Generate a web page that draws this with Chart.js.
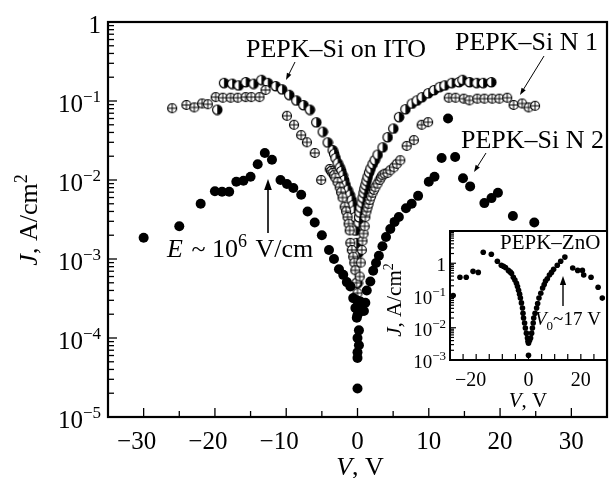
<!DOCTYPE html>
<html><head><meta charset="utf-8">
<script src="https://cdn.jsdelivr.net/npm/chart.js@4.4.0/dist/chart.umd.min.js"></script>
<style>
html,body{margin:0;padding:0;background:#fff;}
#wrap{position:relative;width:613px;height:478px;overflow:hidden;}
canvas{position:absolute;}
</style>
</head><body>
<div id="wrap">
<canvas id="main" width="613" height="478" style="left:0;top:0;width:613px;height:478px"></canvas>
<canvas id="inset" width="233" height="190" style="left:380px;top:222px;width:233px;height:190px"></canvas>
</div>
<script>
// ---------- DATA ----------
// PEPK–Si on ITO (half-filled circles)
const itoV = [-19.7,-18.75,-17.6,-16.7,-15.7,-14.6,-13.5,-12.6,-11.5,-10.6,-9.6,-8.6,-7.6,-6.7,-5.8,-4.9,-4.2,-3.5,-3.3,-3.1,-2.8,-2.5,-2.3,-2.1,-1.9,-1.7,-1.4,-1.1,-0.85,-0.7,-0.55,-0.4,-0.3,-0.2,-0.1,0,0.1,0.14,0.2,0.28,0.4,0.56,0.7,0.83,0.95,1.1,1.25,1.4,1.6,1.8,2.1,2.4,2.8,3.5,4.2,5.0,5.8,6.7,7.6,8.3,9.0,9.9,10.7,11.5,12.2,13.2,14.2,14.7,15.7,16.7,17.6,18.75];
const itoJ = [0.078,0.170,0.166,0.158,0.174,0.166,0.186,0.170,0.155,0.141,0.120,0.102,0.089,0.078,0.054,0.041,0.030,0.024,0.0215,0.019,0.0165,0.0145,0.013,0.0115,0.0100,0.0087,0.0075,0.0065,0.0056,0.0048,0.0041,0.0034,0.0023,0.0016,0.0009,0.0005,0.0012,0.0029,0.0034,0.0039,0.0045,0.0052,0.0060,0.0069,0.0078,0.0087,0.0098,0.011,0.0125,0.014,0.016,0.018,0.021,0.026,0.035,0.045,0.063,0.079,0.093,0.102,0.112,0.126,0.138,0.151,0.158,0.170,0.174,0.186,0.174,0.170,0.170,0.174];
// PEPK–Si N 1 (circles with cross)
const n1V = [-26,-24,-22.9,-21.8,-21,-19.9,-18.9,-17.8,-16.8,-15.7,-14.9,-13.75,-12.9,-9.9,-8.9,-7.9,-7.1,-6.0,-5.1,-3.9,-3.7,-3.5,-3.3,-3.1,-2.8,-2.5,-2.3,-2.1,-1.8,-1.6,-1.4,-1.25,-1.1,-1.0,-0.8,-0.6,-0.45,-0.3,-0.15,0,0.3,0.45,0.6,0.7,0.85,1.0,1.1,1.25,1.4,1.55,1.7,1.9,2.1,2.3,2.5,2.8,3.1,3.3,3.5,3.8,4.2,4.6,5.1,5.5,6.0,6.9,7.9,9.0,9.9,12.8,13.75,14.9,15.7,16.8,17.8,18.9,19.9,21.0,21.9,23.1,24.0,24.9];
const n1J = [0.081,0.089,0.083,0.093,0.091,0.112,0.110,0.110,0.110,0.112,0.112,0.112,0.138,0.065,0.050,0.037,0.030,0.022,0.010,0.0138,0.013,0.0123,0.0115,0.0107,0.0094,0.0081,0.0070,0.0060,0.0046,0.0040,0.0034,0.0028,0.0023,0.0016,0.0013,0.00107,0.0009,0.00072,0.0005,0.00037,0.0006,0.0009,0.0013,0.0017,0.0021,0.0026,0.0034,0.0040,0.0045,0.0050,0.0056,0.0062,0.0069,0.0075,0.0081,0.009,0.010,0.0108,0.0115,0.012,0.0123,0.0133,0.0145,0.016,0.0178,0.027,0.032,0.050,0.054,0.110,0.110,0.107,0.102,0.107,0.107,0.107,0.107,0.110,0.089,0.093,0.083,0.087];
// PEPK–Si N 2 (filled circles)
const n2V = [-30,-25,-22,-20,-19,-18,-17,-16,-15,-14,-13,-12,-10.8,-9.9,-9,-7.9,-7,-6,-5,-4,-3.3,-2.6,-2,-1.5,-1,-0.6,-0.3,0,0.4,0.9,1.1,1.3,1.8,2.2,2.6,3.0,3.5,4.0,4.6,5.2,5.8,6.8,7.6,8.5,10,10.8,11.8,12.7,13.7,14.8,15.8,17.8,18.8,19.7,21.8,24.8,-0.1,0.3,0.2,-0.1,0.2,0,0.2,0,0,0];
const n2J = [1.86e-3,2.6e-3,5.0e-3,7.2e-3,7.1e-3,7.1e-3,9.5e-3,9.8e-3,1.1e-2,1.58e-2,2.2e-2,1.8e-2,1.0e-2,8.9e-3,7.9e-3,6.5e-3,4.0e-3,2.9e-3,2.0e-3,1.3e-3,1.0e-3,7.4e-4,6.3e-4,5.1e-4,4.5e-4,3.2e-4,2.4e-4,1.95e-4,2.9e-4,2.2e-4,2.8e-4,4.0e-4,5.2e-4,7.1e-4,8.9e-4,1.1e-3,1.45e-3,1.9e-3,2.4e-3,2.95e-3,3.4e-3,4.4e-3,5.0e-3,6.3e-3,9.5e-3,1.1e-2,1.9e-2,6.0e-2,1.95e-2,1.05e-2,8.3e-3,5.1e-3,5.9e-3,6.9e-3,3.5e-3,2.9e-3,3.0e-4,2.75e-4,2.1e-4,1.8e-4,1.25e-4,1.0e-4,8.1e-5,6.6e-5,5.6e-5,2.3e-5];
// Inset: PEPK–ZnO
const znoV = [-28.8,-26.2,-23.8,-21.2,-19.2,-17.3,-14.2,-11.9,-10.4,-9.6,-8.8,-7.7,-7.0,-6.5,-5.8,-5.2,-4.6,-4.2,-3.8,-3.4,-3.1,-2.7,-2.3,-2.1,-1.9,-1.5,-1.2,-0.8,-0.4,-0.2,0,0,0.4,0.8,1.2,1.5,1.8,2.0,2.5,3.1,3.5,4.0,4.7,5.4,6.0,6.5,7.2,8.0,8.8,9.6,11.0,12.3,13.9,16.9,18.8,20.6,21.1,23.9,26.6,28.2];
const znoJ = [0.10,0.37,0.37,0.56,0.52,2.2,1.9,1.15,0.87,0.81,0.74,0.60,0.54,0.49,0.37,0.30,0.24,0.19,0.145,0.11,0.083,0.059,0.041,0.028,0.020,0.014,0.0098,0.0068,0.0048,0.0038,0.0033,0.0014,0.0040,0.0048,0.0068,0.0098,0.014,0.020,0.028,0.041,0.056,0.083,0.117,0.17,0.22,0.28,0.33,0.43,0.52,0.65,0.87,1.15,1.55,0.71,0.60,0.60,0.43,0.37,0.18,0.083];
// Tick labels
const mainXLabels = [-30,-20,-10,0,10,20,30];
const mainYExps = [0,-1,-2,-3,-4,-5];
const insetXLabels = [-20,0,20];
const insetYExps = [0,-1,-2,-3];

// ---------- helpers ----------
const SERIF = '"Liberation Serif","Times New Roman",serif';
function pts(xs, ys){ return xs.map((v,i)=>({x:v,y:ys[i]})); }
function makeHalf(r){
  const s = 2*r+3, c = document.createElement('canvas'); c.width=c.height=s;
  const g = c.getContext('2d'), m = s/2;
  g.beginPath(); g.arc(m,m,r,0,2*Math.PI); g.fillStyle='#fff'; g.fill();
  g.beginPath(); g.moveTo(m,m-r); g.arc(m,m,r,-Math.PI/2,Math.PI/2); g.closePath(); g.fillStyle='#000'; g.fill();
  g.beginPath(); g.arc(m,m,r,0,2*Math.PI); g.lineWidth=1.2; g.strokeStyle='#000'; g.stroke();
  return c;
}
function makePlus(r){
  const s = 2*r+3, c = document.createElement('canvas'); c.width=c.height=s;
  const g = c.getContext('2d'), m = s/2;
  g.beginPath(); g.arc(m,m,r,0,2*Math.PI); g.fillStyle='#fff'; g.fill();
  g.lineWidth=1.2; g.strokeStyle='#000'; g.stroke();
  g.beginPath(); g.moveTo(m-r,m); g.lineTo(m+r,m); g.moveTo(m,m-r); g.lineTo(m,m+r); g.lineWidth=1; g.stroke();
  return c;
}
function minusStr(n){ return n<0 ? '\u2212'+Math.abs(n) : String(n); }
function drawPow(ctx, exp, xr, yb, fs, efs, raise){
  ctx.textAlign='left'; ctx.textBaseline='alphabetic';
  if(exp===0){ ctx.font=fs+'px '+SERIF; const w=ctx.measureText('1').width; ctx.fillText('1', xr-w, yb); return; }
  const e = minusStr(exp);
  ctx.font=efs+'px '+SERIF; const we=ctx.measureText(e).width;
  ctx.font=fs+'px '+SERIF; const wb=ctx.measureText('10').width;
  ctx.fillText('10', xr-we-wb, yb);
  ctx.font=efs+'px '+SERIF; ctx.fillText(e, xr-we, yb-raise);
}
function drawRuns(ctx, runs, x, y){
  ctx.textAlign='left'; ctx.textBaseline='alphabetic';
  let cx=x;
  for(const r of runs){
    ctx.font=(r.italic?'italic ':'')+r.size+'px '+SERIF;
    ctx.fillText(r.t, cx, y-(r.dy||0));
    cx += ctx.measureText(r.t).width + (r.gap||0);
  }
  return cx;
}
function runsWidth(ctx, runs){
  let w=0; for(const r of runs){ ctx.font=(r.italic?'italic ':'')+r.size+'px '+SERIF; w+=ctx.measureText(r.t).width+(r.gap||0);} return w;
}
function arrow(ctx, x1,y1,x2,y2, head, lw){
  ctx.save(); ctx.strokeStyle='#000'; ctx.fillStyle='#000'; ctx.lineWidth=lw||1;
  const a=Math.atan2(y2-y1,x2-x1);
  ctx.beginPath(); ctx.moveTo(x1,y1); ctx.lineTo(x2-Math.cos(a)*head*0.8, y2-Math.sin(a)*head*0.8); ctx.stroke();
  ctx.beginPath(); ctx.moveTo(x2,y2);
  ctx.lineTo(x2-head*Math.cos(a)+head*0.35*Math.sin(a), y2-head*Math.sin(a)-head*0.35*Math.cos(a));
  ctx.lineTo(x2-head*Math.cos(a)-head*0.35*Math.sin(a), y2-head*Math.sin(a)+head*0.35*Math.cos(a));
  ctx.closePath(); ctx.fill(); ctx.restore();
}

const halfImg = makeHalf(4.7);
const plusImg = makePlus(4.5);

// ---------- main chart plugin ----------
const mainDeco = {
  id:'mainDeco',
  afterDraw(chart){
    const {ctx, chartArea:a, scales:{x, y}} = chart;
    ctx.save();
    ctx.strokeStyle='#000'; ctx.fillStyle='#000';
    ctx.lineWidth=1.3;
    for(let e=-5;e<=0;e++){
      for(let m=1;m<=9;m++){
        const v=m*Math.pow(10,e); if(v>1) break;
        const py=y.getPixelForValue(v), len = m===1?9:6;
        ctx.beginPath(); ctx.moveTo(a.left, py); ctx.lineTo(a.left+len, py); ctx.stroke();
      }
    }
    for(let v=-30; v<=30; v+=5){
      const px=x.getPixelForValue(v), len = v%10===0?9:6;
      ctx.beginPath(); ctx.moveTo(px, a.bottom); ctx.lineTo(px, a.bottom-len); ctx.stroke();
    }
    ctx.lineWidth=2.2;
    ctx.strokeRect(a.left, a.top, a.right-a.left, a.bottom-a.top);
    for(const e of mainYExps){
      const py=y.getPixelForValue(Math.pow(10,e));
      drawPow(ctx, e, a.left-7, py+11, 25, 17, 10);
    }
    ctx.font='25px '+SERIF; ctx.textBaseline='alphabetic'; ctx.textAlign='left';
    for(const v of mainXLabels){
      const px=x.getPixelForValue(v);
      const w=ctx.measureText(String(Math.abs(v))).width;
      const wm = v<0 ? ctx.measureText('\u2212').width : 0;
      ctx.fillText(minusStr(v), px - w/2 - wm, 449);
    }
    let runs=[{t:'V',italic:true,size:26},{t:', V',size:26}];
    drawRuns(ctx, runs, 360-runsWidth(ctx,runs)/2, 475);
    ctx.save(); ctx.translate(37, 220); ctx.rotate(-Math.PI/2);
    runs=[{t:'J',italic:true,size:26},{t:', A/cm',size:26},{t:'2',size:18,dy:10}];
    drawRuns(ctx, runs, -runsWidth(ctx,runs)/2, 0);
    ctx.restore();
    drawRuns(ctx, [{t:'PEPK\u2013Si on ITO',size:26}], 246, 57);
    arrow(ctx, 295,62, 286,80, 7, 1);
    drawRuns(ctx, [{t:'PEPK\u2013Si N 1',size:26}], 455, 50);
    arrow(ctx, 544,56, 520,95, 7, 1);
    drawRuns(ctx, [{t:'PEPK\u2013Si N 2',size:26}], 461, 148);
    arrow(ctx, 486,153, 474,172, 7, 1);
    drawRuns(ctx, [{t:'E',italic:true,size:26,gap:2},{t:' ~ 10',size:26},{t:'6',size:18,dy:10,gap:2},{t:' V/cm',size:26}], 167, 257);
    arrow(ctx, 268,233, 268,179, 11, 1.6);
    ctx.restore();
  }
};

new Chart(document.getElementById('main'), {
  type:'scatter',
  data:{ datasets:[
    {label:'PEPK–Si N 2', data:pts(n2V,n2J), pointStyle:'circle', pointRadius:5, backgroundColor:'#000', borderColor:'#000', borderWidth:0, order:0},
    {label:'PEPK–Si N 1', data:pts(n1V,n1J), pointStyle:plusImg, pointRadius:5, order:1},
    {label:'PEPK–Si on ITO', data:pts(itoV,itoJ), pointStyle:halfImg, pointRadius:5, order:2}
  ]},
  options:{
    responsive:false, animation:false, devicePixelRatio:1, events:[],
    layout:{padding:{left:108, top:22, right:2, bottom:61}},
    plugins:{legend:{display:false}, tooltip:{enabled:false}},
    scales:{
      x:{type:'linear', min:-35, max:35, ticks:{display:false}, grid:{display:false}, border:{display:false}, afterFit(s){s.height=0;}},
      y:{type:'logarithmic', min:1e-5, max:1, ticks:{display:false}, grid:{display:false}, border:{display:false}, afterFit(s){s.width=0;}}
    }
  },
  plugins:[mainDeco]
});

// ---------- inset ----------
const insetDeco = {
  id:'insetDeco',
  beforeDatasetsDraw(chart){
    const {ctx, chartArea:a} = chart;
    ctx.save(); ctx.fillStyle='#fff'; ctx.fillRect(a.left, a.top, a.right-a.left, a.bottom-a.top); ctx.restore();
  },
  afterDraw(chart){
    const {ctx, chartArea:a, scales:{x, y}} = chart;
    ctx.save(); ctx.strokeStyle='#000'; ctx.fillStyle='#000'; ctx.lineWidth=1.2;
    for(let e=-3;e<=0;e++){
      for(let m=1;m<=9;m++){
        const v=m*Math.pow(10,e); if(v>10) break;
        const py=y.getPixelForValue(v), len = m===1?6:4;
        ctx.beginPath(); ctx.moveTo(a.left, py); ctx.lineTo(a.left+len, py); ctx.stroke();
      }
    }
    for(let v=-25; v<=25; v+=5){
      const px=x.getPixelForValue(v);
      ctx.beginPath(); ctx.moveTo(px, a.bottom); ctx.lineTo(px, a.bottom-6); ctx.stroke();
    }
    ctx.lineWidth=2;
    ctx.strokeRect(a.left, a.top, a.right-a.left, a.bottom-a.top);
    for(const e of insetYExps){
      const py=y.getPixelForValue(Math.pow(10,e));
      drawPow(ctx, e, a.left-4, py+8, 19, 13, 8);
    }
    ctx.font='20px '+SERIF; ctx.textAlign='left';
    for(const v of insetXLabels){
      const px=x.getPixelForValue(v);
      const w=ctx.measureText(String(Math.abs(v))).width;
      const wm = v<0 ? ctx.measureText('\u2212').width : 0;
      ctx.fillText(minusStr(v), px-w/2-wm, 386-222);
    }
    let runs=[{t:'V',italic:true,size:21},{t:', V',size:21}];
    drawRuns(ctx, runs, (528-380)-runsWidth(ctx,runs)/2, 407-222);
    ctx.save(); ctx.translate(401-380, 300-222); ctx.rotate(-Math.PI/2);
    runs=[{t:'J',italic:true,size:21},{t:', A/cm',size:21},{t:'2',size:14,dy:8}];
    drawRuns(ctx, runs, -runsWidth(ctx,runs)/2, 0);
    ctx.restore();
    drawRuns(ctx, [{t:'PEPK\u2013ZnO',size:21}], 500-380, 249-222);
    drawRuns(ctx, [{t:'V',italic:true,size:19},{t:'0',size:13,dy:-5},{t:'~17 V',size:19}], 535-380, 325-222);
    arrow(ctx, 563-380, 306-222, 563-380, 276-222, 9, 1.4);
    ctx.restore();
  }
};

new Chart(document.getElementById('inset'), {
  type:'scatter',
  data:{ datasets:[
    {label:'PEPK–ZnO', data:pts(znoV,znoJ), pointStyle:'circle', pointRadius:2.8, backgroundColor:'#000', borderWidth:0}
  ]},
  options:{
    responsive:false, animation:false, devicePixelRatio:1, events:[],
    layout:{padding:{left:70, top:9, right:6, bottom:52}},
    plugins:{legend:{display:false}, tooltip:{enabled:false}},
    scales:{
      x:{type:'linear', min:-30, max:30, ticks:{display:false}, grid:{display:false}, border:{display:false}, afterFit(s){s.height=0;}},
      y:{type:'logarithmic', min:1e-3, max:10, ticks:{display:false}, grid:{display:false}, border:{display:false}, afterFit(s){s.width=0;}}
    }
  },
  plugins:[insetDeco]
});
</script>
</body></html>
